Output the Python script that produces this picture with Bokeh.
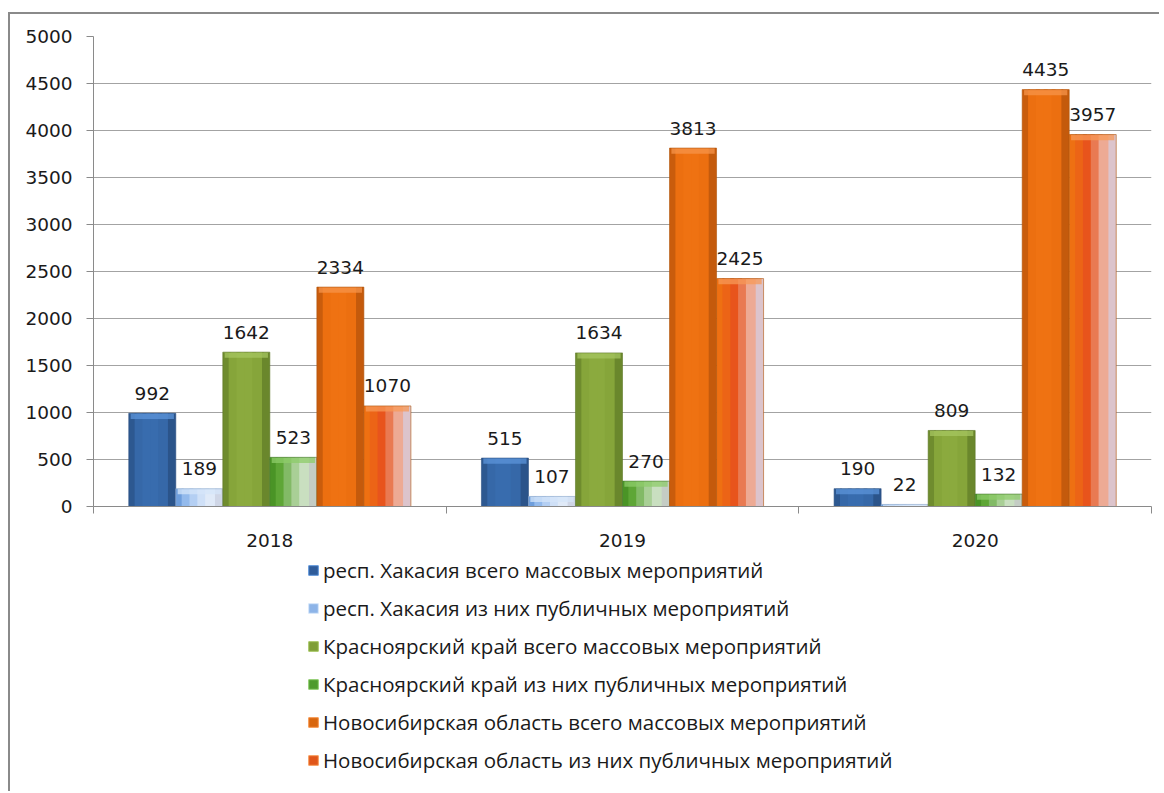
from bokeh.plotting import figure
from bokeh.layouts import column
from bokeh.models import FixedTicker, Legend, LegendItem, Range1d, ColumnDataSource
from bokeh.core.properties import value
from bokeh.embed import file_html
from bokeh.resources import INLINE

# ---------------- data ----------------
years = ["2018", "2019", "2020"]
series_names = [
    "респ. Хакасия всего массовых мероприятий",
    "респ. Хакасия из них публичных мероприятий",
    "Красноярский край всего массовых мероприятий",
    "Красноярский край из них публичных мероприятий",
    "Новосибирская область всего массовых мероприятий",
    "Новосибирская область из них публичных мероприятий",
]
khakasia_total = [992, 515, 190]
khakasia_public = [189, 107, 22]
krasnoyarsk_total = [1642, 1634, 809]
krasnoyarsk_public = [523, 270, 132]
novosibirsk_total = [2334, 3813, 4435]
novosibirsk_public = [1070, 2425, 3957]
y_ticks = [0, 500, 1000, 1500, 2000, 2500, 3000, 3500, 4000, 4500, 5000]

series_values = [khakasia_total, khakasia_public, krasnoyarsk_total,
                 krasnoyarsk_public, novosibirsk_total, novosibirsk_public]

# ---------------- styles ----------------
strip_colors = [
    ["#2D5890", "#3668A8", "#386CAE", "#386CAE", "#3668A8", "#2B548A"],
    ["#6E9EDC", "#93BAEC", "#B4CFF3", "#CFE0F7", "#E0EAF8", "#CFD6E6"],
    ["#6F8C2E", "#86A53A", "#8BAA3E", "#8BAA3E", "#86A53A", "#6A872C"],
    ["#4A9426", "#5EA636", "#82BA66", "#A9CF96", "#C9DFC0", "#C4CCC4"],
    ["#C95C0C", "#EC6F10", "#EF7212", "#EF7212", "#EC6F10", "#C45A0C"],
    ["#EE7012", "#EC6416", "#E8541C", "#E97A52", "#EDAA94", "#DCC4CC"],
]
top_colors = ["#5C94DA", "#D6E6FA", "#A6C660", "#8DCC6A", "#F7944A", "#F79A58"]
outline_colors = ["#2A4F80", "#8AA6CC", "#5E7826", "#4A7A30", "#B0550C", "#B0550C"]
legend_colors = ["#2F5C9A", "#8DB4E8", "#7E9E36", "#4E9A2C", "#D8660E", "#E0561A"]

n_series = len(series_values)
group_w = 0.8
bar_w = group_w / n_series
n_strips = 6
strip_w = bar_w / n_strips

W = 1149
p = figure(width=W, height=542, output_backend="svg", toolbar_location=None,
           x_range=Range1d(0, 3), y_range=Range1d(0, 5000),
           min_border_left=83, min_border_right=8, min_border_top=22,
           min_border_bottom=50)
p.outline_line_color = None
p.background_fill_color = "white"
p.border_fill_color = "white"

# grid
p.xgrid.grid_line_color = None
p.ygrid.ticker = FixedTicker(ticks=y_ticks)
p.ygrid.grid_line_color = "#A3A3A3"
p.ygrid.grid_line_width = 1

# y axis
p.yaxis.ticker = FixedTicker(ticks=y_ticks)
p.yaxis.axis_line_color = "#8A8A8A"
p.yaxis.major_tick_line_color = "#8A8A8A"
p.yaxis.major_tick_out = 7
p.yaxis.major_tick_in = 0
p.yaxis.minor_tick_line_color = None
p.yaxis.major_label_text_font = "DejaVu Sans"
p.yaxis.major_label_text_font_size = "18.5px"
p.yaxis.major_label_text_color = "#1A1A1A"
p.yaxis.major_label_standoff = 14

# x axis: labels centred on categories, ticks on boundaries
centers = [i + 0.5 for i in range(len(years))]
bounds = [float(i) for i in range(len(years) + 1)]
p.xaxis.ticker = FixedTicker(ticks=centers, minor_ticks=bounds)
p.xaxis.major_label_overrides = {c: y for c, y in zip(centers, years)}
p.xaxis.axis_line_color = "#8A8A8A"
p.xaxis.major_tick_line_color = None
p.xaxis.major_tick_out = 0
p.xaxis.major_tick_in = 0
p.xaxis.minor_tick_line_color = "#8A8A8A"
p.xaxis.minor_tick_out = 7
p.xaxis.minor_tick_in = 0
p.xaxis.major_label_text_font = "DejaVu Sans"
p.xaxis.major_label_text_font_size = "18.5px"
p.xaxis.major_label_text_color = "#1A1A1A"
p.xaxis.major_label_standoff = 20

# labels first (bars drawn after may cover them, as in the original)
for j, vals in enumerate(series_values):
    off = (j - (n_series - 1) / 2) * bar_w
    src = ColumnDataSource(dict(x=[c + off for c in centers], y=vals,
                                t=[str(v) for v in vals]))
    p.text(x="x", y="y", text="t", source=src, text_align="center",
           text_baseline="alphabetic", y_offset=-20,
           text_font=value("DejaVu Sans"), text_font_size="18.5px",
           text_color="#1A1A1A")

for j, vals in enumerate(series_values):
    off = (j - (n_series - 1) / 2) * bar_w
    xs = [c + off for c in centers]
    for k in range(n_strips):
        soff = (k - (n_strips - 1) / 2) * strip_w
        # strips overlap slightly so that no seams show between them
        w = strip_w * (1.5 if 0 < k < n_strips - 1 else 1.0)
        p.vbar(x=[x + soff for x in xs], top=vals, bottom=0, width=w,
               fill_color=strip_colors[j][k], line_color=None)
    # bevel band at the top
    p.vbar(x=xs, top=vals, bottom=[max(0, v - 60) for v in vals], width=bar_w * 0.92,
           fill_color=top_colors[j], fill_alpha=0.75, line_color=None)
    # thin outline
    p.vbar(x=xs, top=vals, bottom=0, width=bar_w, fill_color=None,
           line_color=outline_colors[j], line_alpha=0.6, line_width=1)

# ---------------- legend (separate figure beneath) ----------------
LH = 235
pl = figure(width=W, height=LH, output_backend="svg", toolbar_location=None,
            x_range=Range1d(0, 1), y_range=Range1d(0, 1),
            x_axis_location=None, y_axis_location=None,
            min_border=0)
pl.outline_line_color = None
pl.xgrid.grid_line_color = None
pl.ygrid.grid_line_color = None
pl.border_fill_color = "white"

legend_items = []
for j in range(n_series):
    r = pl.rect(x=[-10], y=[-10], width=1, height=1, fill_color=legend_colors[j],
                line_color=top_colors[j], line_width=1)
    legend_items.append(LegendItem(label=series_names[j], renderers=[r]))

legend = Legend(items=legend_items, location=(214, 17), orientation="vertical",
                label_text_font="Open Sans", label_text_font_size="20.5px",
                label_text_color="#1A1A1A",
                glyph_width=12, glyph_height=12, label_standoff=4,
                spacing=10, label_height=22, padding=0, margin=0,
                border_line_color=None, background_fill_alpha=0.0)
pl.add_layout(legend, "center")

layout = column(p, pl, spacing=0)
layout.styles = {"border-left": "2px solid #8A8A8A", "border-top": "2px solid #8A8A8A",
                 "margin-left": "8px", "margin-top": "12px"}

open("out.html", "w").write(file_html(layout, INLINE))
